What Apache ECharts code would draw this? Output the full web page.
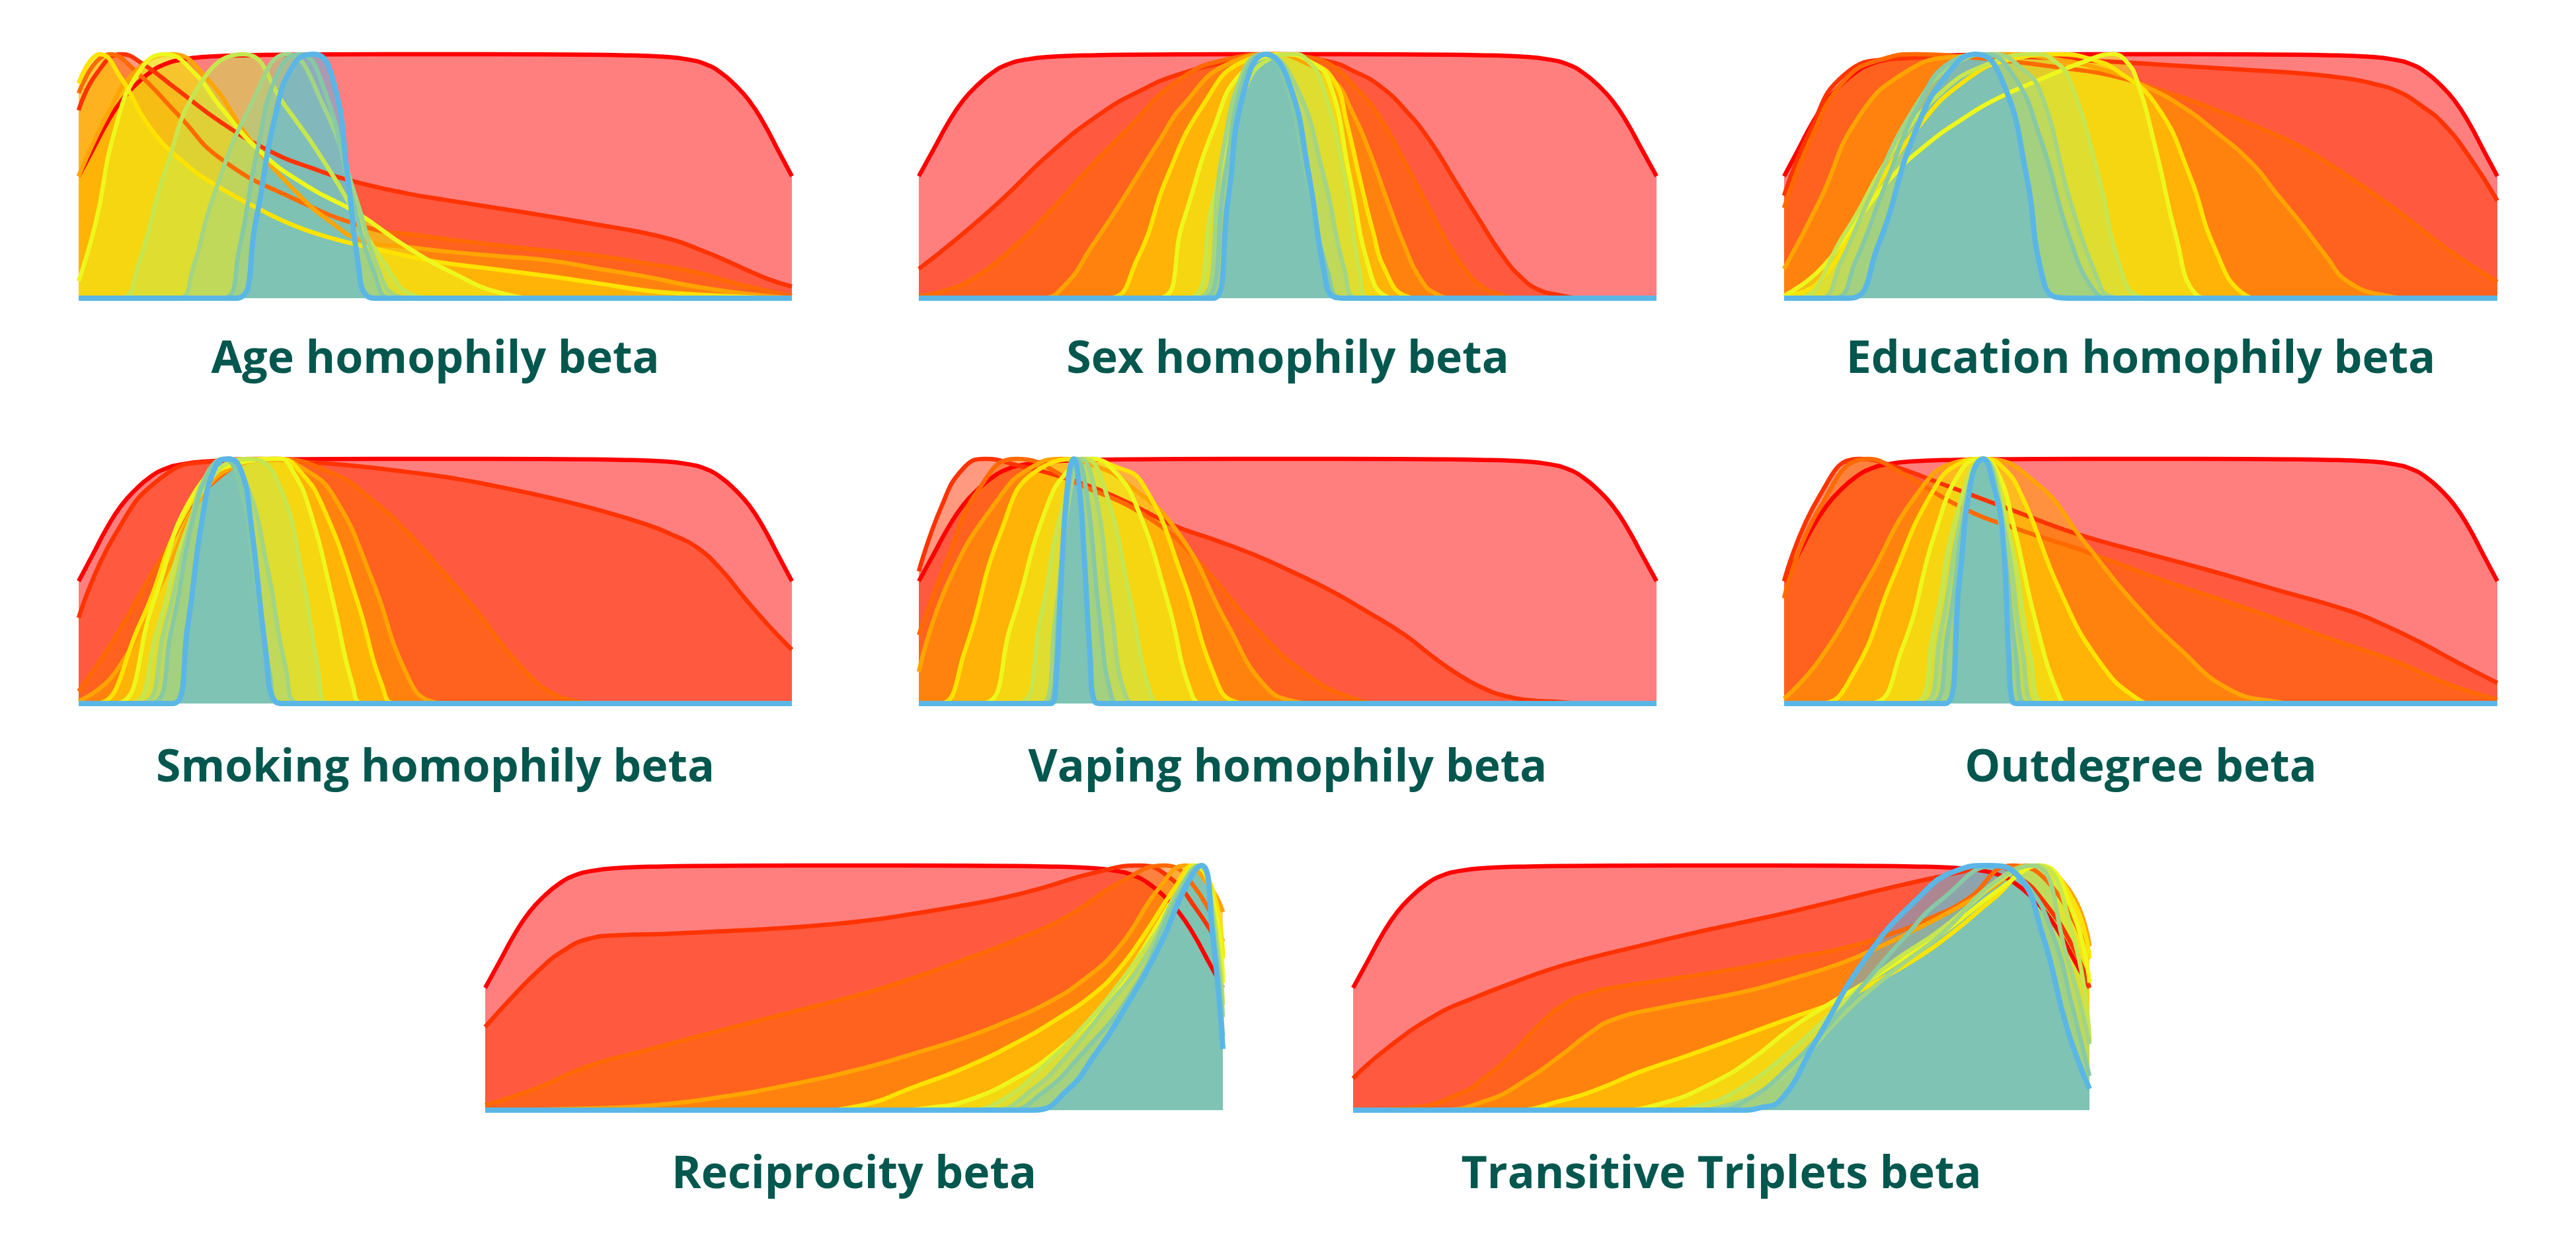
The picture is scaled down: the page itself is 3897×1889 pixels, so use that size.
<!DOCTYPE html>
<html>
<head>
<meta charset="utf-8">
<script src="https://cdn.jsdelivr.net/npm/echarts@6/dist/echarts.min.js"></script>
<style>
  html, body { margin: 0; padding: 0; background: #fff; }
  #chart { width: 3897px; height: 1889px; }
</style>
</head>
<body>
<div id="chart"></div>
<script>
'use strict'

// one colour per curve, from first (red) to last (blue)
const CURVE_COLORS = [
  '#ff0000',
  '#ff3300',
  '#ff6a00',
  '#ffa400',
  '#ffe300',
  '#eef71c',
  '#c6e650',
  '#a2d584',
  '#86c9a6',
  '#5ab6e6'
]

const PANEL_TITLES = [
  'Age homophily beta',
  'Sex homophily beta',
  'Education homophily beta',
  'Smoking homophily beta',
  'Vaping homophily beta',
  'Outdegree beta',
  'Reciprocity beta',
  'Transitive Triplets beta'
]

// x is position across the panel (0-100), y is the normalised density (0-1)
const priorCurve = [[0, 0.5], [2, 0.61], [4, 0.72], [6, 0.81], [8, 0.875], [10, 0.925], [12, 0.958], [14.5, 0.978], [18, 0.99], [24, 0.996], [35, 0.999], [50, 1], [65, 0.999], [76, 0.996], [82, 0.99], [85.5, 0.978], [88, 0.958], [90, 0.925], [92, 0.875], [94, 0.81], [96, 0.72], [98, 0.61], [100, 0.5]]

const ageCurves = [
  priorCurve,
  [[0, 0.77], [2.5, 0.92], [6, 1], [9, 0.96], [13.6, 0.86], [20, 0.72], [27, 0.6], [33, 0.53], [38.4, 0.48], [45.9, 0.43], [52, 0.4], [59.4, 0.366], [66, 0.335], [73, 0.3], [78, 0.275], [83.2, 0.24], [87, 0.2], [90, 0.164], [93.5, 0.118], [96.8, 0.077], [100, 0.048]],
  [[0, 0.84], [4.4, 1], [8, 0.93], [14, 0.75], [20, 0.57], [30, 0.41], [40.4, 0.29], [47, 0.26], [55, 0.23], [64, 0.2], [73, 0.173], [80, 0.14], [86.6, 0.106], [91, 0.07], [95, 0.04], [100, 0.01]],
  [[0, 0.5], [4, 0.75], [8, 0.93], [13, 1], [18, 0.9], [24, 0.65], [30, 0.45], [35, 0.32], [40.4, 0.23], [46, 0.21], [52, 0.19], [59, 0.172], [66.2, 0.154], [73, 0.12], [79.8, 0.087], [86, 0.05], [93.4, 0.019], [100, 0]],
  [[0, 0.88], [3, 1], [6, 0.9], [10, 0.7], [15, 0.55], [20, 0.45], [25, 0.37], [30, 0.3], [35, 0.25], [40.4, 0.21], [45, 0.18], [50, 0.15], [58, 0.12], [66, 0.09], [73, 0.06], [80, 0.03], [85, 0.018], [90, 0.01], [95, 0.003], [100, 0]],
  [[0, 0.07], [2.4, 0.31], [5.1, 0.69], [8.5, 0.93], [12.2, 1], [16, 0.93], [20, 0.78], [25.5, 0.6], [32, 0.46], [39, 0.35], [46, 0.21], [52.7, 0.1], [59.4, 0.02], [65, 0], [100, 0]],
  [[0, 0], [5.8, 0], [8.5, 0.15], [11.9, 0.5], [17.3, 0.89], [23.1, 1], [28.9, 0.79], [35.7, 0.5], [42.5, 0.16], [47.2, 0.01], [50, 0], [100, 0]],
  [[0, 0], [13.9, 0], [16, 0.12], [18.7, 0.4], [24.1, 0.79], [29.2, 1], [34.3, 0.79], [39, 0.4], [42, 0.12], [44.5, 0.01], [47, 0], [100, 0]],
  [[0, 0], [20.2, 0], [22.5, 0.2], [25, 0.6], [28, 0.93], [31, 1], [34.5, 0.85], [38, 0.45], [41.5, 0.1], [44, 0], [100, 0]],
  [[0, 0], [22.1, 0], [24.8, 0.31], [27.5, 0.74], [30.2, 0.96], [33, 1], [35.7, 0.89], [37.7, 0.5], [39.1, 0.16], [40.4, 0.01], [42, 0], [100, 0]]
]

const sexCurves = [
  priorCurve,
  [[0, 0.12], [5, 0.24], [11.1, 0.4], [18, 0.6], [24.8, 0.76], [30, 0.85], [35, 0.915], [41.9, 0.97], [48, 1], [55.6, 0.97], [59, 0.93], [62.5, 0.87], [66, 0.77], [69.3, 0.645], [72.7, 0.48], [76.2, 0.31], [79, 0.18], [81.6, 0.087], [84, 0.035], [86.4, 0.015], [90, 0], [100, 0]],
  [[0, 0.01], [3.5, 0.03], [7.7, 0.087], [12.5, 0.2], [17.9, 0.36], [23, 0.53], [28.2, 0.69], [35, 0.89], [41.9, 0.98], [48, 1], [52, 0.99], [55.6, 0.96], [59, 0.87], [62.5, 0.74], [66, 0.55], [69.3, 0.36], [71.8, 0.22], [74.1, 0.116], [76.2, 0.05], [78.2, 0.02], [82, 0], [100, 0]],
  [[0, 0], [16.6, 0], [20, 0.06], [23.4, 0.21], [26.5, 0.35], [29.6, 0.5], [32.7, 0.65], [35.8, 0.79], [41.9, 0.96], [48.5, 1], [52, 0.97], [56.3, 0.89], [58.8, 0.76], [61.1, 0.6], [63.5, 0.4], [65.9, 0.21], [68, 0.08], [70, 0.02], [73, 0], [100, 0]],
  [[0, 0], [25.5, 0], [29.6, 0.16], [33.7, 0.5], [38.5, 0.79], [44, 0.97], [49.5, 1], [53, 0.97], [56.3, 0.89], [58, 0.72], [59.7, 0.5], [61.5, 0.28], [63.2, 0.116], [65.9, 0.01], [68, 0], [100, 0]],
  [[0, 0], [32.3, 0], [35.8, 0.31], [39.9, 0.69], [44, 0.93], [50.1, 1], [53, 0.97], [55.6, 0.89], [58.4, 0.5], [61.1, 0.116], [63.2, 0.01], [65, 0], [100, 0]],
  [[0, 0], [36.4, 0], [39.9, 0.4], [44, 0.84], [47.5, 0.98], [50.8, 1], [52.5, 0.98], [54.5, 0.89], [57.7, 0.5], [59.7, 0.116], [61.1, 0], [100, 0]],
  [[0, 0], [37.8, 0], [41.2, 0.6], [44, 0.93], [46.7, 1], [50.8, 0.89], [54.9, 0.5], [57.7, 0.116], [59.7, 0], [100, 0]],
  [[0, 0], [38.5, 0], [41.5, 0.5], [44, 0.9], [46.7, 1], [49.5, 0.9], [52.5, 0.5], [55.5, 0.1], [57.5, 0], [100, 0]],
  [[0, 0], [39.9, 0], [41.9, 0.4], [44, 0.84], [47.1, 1], [50.1, 0.89], [52.9, 0.5], [54.9, 0.116], [56.3, 0.005], [58, 0], [100, 0]]
]

const educationCurves = [
  priorCurve,
  [[0, 0.42], [3.7, 0.69], [8.4, 0.915], [15.2, 0.98], [25, 0.99], [30, 0.99], [45.5, 0.97], [55, 0.953], [65.7, 0.934], [73, 0.92], [79.1, 0.9], [82.5, 0.88], [85.9, 0.85], [89.3, 0.79], [92.6, 0.71], [96.3, 0.57], [100, 0.4]],
  [[0, 0.37], [3.7, 0.65], [8.4, 0.89], [13.8, 0.98], [18.5, 1], [25, 0.99], [32, 0.97], [38.7, 0.945], [45.5, 0.915], [52, 0.86], [58.9, 0.79], [65.7, 0.71], [72.4, 0.62], [79, 0.5], [85.9, 0.36], [93, 0.2], [100, 0.067]],
  [[0, 0.12], [5, 0.4], [10.4, 0.74], [17.2, 0.93], [24, 0.99], [30.6, 1], [38, 0.98], [45.5, 0.93], [50.5, 0.87], [55.6, 0.79], [60.6, 0.68], [65.7, 0.55], [69, 0.43], [72.4, 0.31], [75.8, 0.18], [79.1, 0.067], [84.5, 0.01], [88, 0], [100, 0]],
  [[0, 0.01], [5, 0.07], [11.8, 0.4], [18.5, 0.69], [25.3, 0.89], [32, 0.98], [38.7, 1], [43, 0.98], [46.8, 0.93], [52.2, 0.79], [56.9, 0.5], [60.3, 0.21], [64.3, 0.02], [67, 0], [100, 0]],
  [[0, 0.01], [5, 0.116], [10, 0.31], [15.2, 0.5], [20, 0.63], [25.3, 0.74], [30, 0.82], [35.4, 0.89], [42.1, 0.97], [46.1, 1], [48, 0.97], [49.5, 0.89], [52.2, 0.6], [54.9, 0.26], [57.6, 0.02], [60, 0], [100, 0]],
  [[0, 0], [1.7, 0], [8.4, 0.26], [15.2, 0.6], [21.9, 0.84], [28.6, 0.96], [35.4, 1], [38, 0.97], [40.1, 0.89], [44.1, 0.5], [46.8, 0.16], [49.5, 0.01], [52, 0], [100, 0]],
  [[0, 0], [5, 0], [8, 0.15], [11.8, 0.4], [18.5, 0.79], [24, 0.96], [29.3, 1], [33, 0.95], [36, 0.84], [40.1, 0.4], [44.1, 0.067], [45.5, 0.01], [48, 0], [100, 0]],
  [[0, 0], [7, 0], [10, 0.15], [14, 0.45], [19, 0.8], [23.5, 0.97], [27.9, 1], [32, 0.92], [36, 0.65], [40, 0.25], [43.5, 0.03], [46, 0], [100, 0]],
  [[0, 0], [9.1, 0], [13.1, 0.21], [18.5, 0.69], [23.2, 0.93], [26.9, 1], [30.6, 0.89], [34, 0.5], [36, 0.116], [38, 0.005], [40, 0], [100, 0]]
]

const smokingCurves = [
  priorCurve,
  [[0, 0.35], [5.1, 0.69], [11.9, 0.93], [18.7, 0.99], [25.5, 1], [32, 0.988], [39.1, 0.97], [45.9, 0.947], [52.7, 0.92], [59.4, 0.883], [66.2, 0.84], [73, 0.79], [79.8, 0.73], [83.2, 0.69], [86.6, 0.64], [90, 0.55], [93.4, 0.43], [96.7, 0.32], [100, 0.22]],
  [[0, 0.05], [5.1, 0.27], [11.9, 0.61], [18.7, 0.9], [27.5, 1], [35.7, 0.94], [40.8, 0.84], [45.9, 0.705], [51, 0.54], [56, 0.37], [59.4, 0.24], [62.8, 0.126], [66.2, 0.045], [69.6, 0.01], [73, 0], [100, 0]],
  [[0, 0.01], [5.1, 0.126], [11.9, 0.51], [17.3, 0.85], [22, 0.97], [27.5, 1], [31.5, 0.96], [35.7, 0.85], [41.1, 0.51], [45.9, 0.126], [49.3, 0.01], [52, 0], [100, 0]],
  [[0, 0], [2.4, 0], [8.5, 0.32], [15.3, 0.8], [21, 0.97], [28.2, 1], [31, 0.95], [34.3, 0.8], [39.1, 0.415], [42.5, 0.077], [44.5, 0], [100, 0]],
  [[0, 0], [5.1, 0], [10.5, 0.415], [16, 0.85], [22, 0.98], [28.2, 1], [30, 0.95], [32.3, 0.8], [35.7, 0.415], [38.4, 0.077], [40, 0], [100, 0]],
  [[0, 0], [7.1, 0], [11, 0.3], [15, 0.7], [19.5, 0.95], [24.1, 1], [28, 0.9], [31.5, 0.5], [33.5, 0.15], [35, 0], [100, 0]],
  [[0, 0], [8.5, 0], [12, 0.3], [15.5, 0.72], [18, 0.94], [20.7, 1], [23.5, 0.9], [26.5, 0.55], [29, 0.15], [31, 0], [100, 0]],
  [[0, 0], [9.9, 0], [13, 0.3], [16, 0.75], [18.5, 0.96], [20.3, 1], [22.5, 0.9], [24.8, 0.5], [26.8, 0.12], [28.2, 0], [100, 0]],
  [[0, 0], [13.2, 0], [15.3, 0.32], [17.3, 0.75], [19.2, 0.97], [21, 1], [22.8, 0.95], [24.1, 0.75], [26.2, 0.22], [27.5, 0.01], [29, 0], [100, 0]]
]

const vapingCurves = [
  priorCurve,
  [[0, 0.54], [3, 0.8], [6, 0.96], [9, 1], [13.2, 0.975], [20, 0.92], [27, 0.84], [34.4, 0.73], [40, 0.67], [45.3, 0.61], [50.5, 0.54], [55.6, 0.465], [60.8, 0.375], [65.9, 0.28], [69.3, 0.2], [72.7, 0.127], [76, 0.07], [79.6, 0.03], [83, 0.013], [86.4, 0.007], [90, 0], [100, 0]],
  [[0, 0.28], [4, 0.6], [8, 0.87], [13.2, 1], [21.4, 0.9], [31.6, 0.75], [38.5, 0.56], [45.3, 0.32], [52.2, 0.127], [59, 0.02], [63, 0], [100, 0]],
  [[0, 0.13], [4.2, 0.51], [11.1, 0.85], [15, 0.96], [19.3, 1], [24, 0.97], [28.2, 0.9], [35.1, 0.7], [41.9, 0.32], [46.7, 0.08], [50.8, 0.01], [54, 0], [100, 0]],
  [[0, 0], [2.9, 0], [6.3, 0.22], [11.1, 0.7], [15.9, 0.95], [22.7, 1], [26.5, 0.97], [30.3, 0.9], [35.8, 0.51], [39.9, 0.127], [42.6, 0.01], [45, 0], [100, 0]],
  [[0, 0], [8.4, 0], [12.5, 0.32], [17.3, 0.8], [20.5, 0.96], [23.4, 1], [26.5, 0.95], [29.6, 0.8], [33.7, 0.42], [37.1, 0.03], [39, 0], [100, 0]],
  [[0, 0], [13.2, 0], [16.5, 0.35], [19.5, 0.8], [22.7, 1], [25.5, 0.85], [28.5, 0.45], [31.6, 0.02], [33, 0], [100, 0]],
  [[0, 0], [16.6, 0], [18.5, 0.35], [20.3, 0.82], [22.1, 1], [24, 0.85], [26, 0.4], [28.2, 0.02], [30, 0], [100, 0]],
  [[0, 0], [17.3, 0], [19, 0.4], [20.2, 0.85], [21.4, 1], [22.8, 0.85], [24.5, 0.35], [26.2, 0.02], [27.5, 0], [100, 0]],
  [[0, 0], [17.9, 0], [18.6, 0.1], [19.3, 0.51], [20.2, 0.9], [21, 1], [21.7, 0.9], [22.4, 0.61], [23.2, 0.2], [23.8, 0.01], [25, 0], [100, 0]]
]

const outdegreeCurves = [
  priorCurve,
  [[0, 0.5], [5, 0.85], [10.4, 1], [13.8, 0.985], [21.9, 0.9], [32, 0.79], [41.4, 0.69], [50, 0.62], [58.9, 0.55], [69, 0.465], [79.1, 0.38], [84.2, 0.32], [89.2, 0.25], [94.6, 0.165], [100, 0.084]],
  [[0, 0.43], [5, 0.8], [11.8, 1], [16, 0.95], [25, 0.8], [33, 0.71], [41.4, 0.63], [53.5, 0.5], [65.7, 0.38], [76, 0.27], [85.9, 0.17], [93, 0.08], [100, 0.016]],
  [[0, 0.02], [5, 0.18], [11.8, 0.51], [18.5, 0.85], [23.9, 0.985], [27.9, 1], [35.4, 0.9], [42.1, 0.66], [48.8, 0.42], [55.6, 0.22], [62.3, 0.06], [69, 0.007], [72, 0], [100, 0]],
  [[0, 0], [5, 0], [9.8, 0.127], [15.2, 0.51], [20.5, 0.85], [24.5, 0.98], [27.9, 1], [30.5, 0.97], [33.3, 0.85], [38.7, 0.46], [44.1, 0.175], [49.5, 0.02], [52, 0], [100, 0]],
  [[0, 0], [11.8, 0], [16.5, 0.22], [21.2, 0.7], [25, 0.96], [27.9, 1], [30, 0.94], [32, 0.75], [35.4, 0.32], [38.7, 0.02], [40, 0], [100, 0]],
  [[0, 0], [17.8, 0], [21, 0.3], [24, 0.75], [27.9, 1], [31.5, 0.7], [34.5, 0.2], [36.7, 0], [100, 0]],
  [[0, 0], [19.2, 0], [22, 0.3], [25, 0.78], [27.9, 1], [31, 0.7], [33.5, 0.2], [35.4, 0], [100, 0]],
  [[0, 0], [20.5, 0], [23, 0.3], [25.5, 0.8], [27.9, 1], [30.5, 0.7], [32.5, 0.2], [34, 0], [100, 0]],
  [[0, 0], [22.6, 0], [24.6, 0.51], [26.3, 0.92], [27.9, 1], [29.3, 0.9], [30.6, 0.7], [31.5, 0.2], [32, 0.01], [33, 0], [100, 0]]
]

const reciprocityCurves = [
  priorCurve,
  [[0, 0.34], [3.6, 0.46], [7.2, 0.57], [10.5, 0.65], [14, 0.7], [18, 0.715], [24.3, 0.72], [31, 0.73], [38, 0.74], [45, 0.755], [51.7, 0.775], [58.5, 0.805], [65.4, 0.84], [70.5, 0.87], [75.7, 0.91], [82.5, 0.97], [88.7, 1], [92.8, 0.95], [96.2, 0.83], [100, 0.65]],
  [[0, 0.02], [7, 0.09], [14, 0.18], [22.5, 0.25], [31.2, 0.32], [41.5, 0.4], [51.7, 0.48], [58.5, 0.545], [65.4, 0.62], [72.3, 0.7], [79.1, 0.795], [86, 0.93], [92.1, 1], [96.2, 0.91], [100, 0.69]],
  [[0, 0], [17.5, 0.01], [24.5, 0.025], [31.2, 0.05], [41.5, 0.105], [51.7, 0.175], [58.5, 0.235], [65.4, 0.3], [70.5, 0.36], [75.7, 0.43], [81, 0.53], [86, 0.67], [91.4, 0.91], [94.9, 1], [98.3, 0.91], [100, 0.81]],
  [[0, 0], [44.9, 0], [50.3, 0.015], [58.6, 0.1], [65.5, 0.18], [72.3, 0.28], [77.4, 0.37], [82.5, 0.475], [86, 0.58], [89.4, 0.72], [93.5, 0.91], [95.9, 1], [99, 0.86], [100, 0.62]],
  [[0, 0], [55.1, 0], [60.2, 0.01], [65.4, 0.04], [72.3, 0.136], [77.4, 0.24], [82.5, 0.38], [86, 0.51], [89.4, 0.67], [94.2, 0.91], [96.2, 1], [99, 0.81], [100, 0.52]],
  [[0, 0], [65.4, 0], [70.5, 0.05], [75.7, 0.18], [81, 0.34], [86, 0.52], [92.8, 0.81], [96.6, 1], [98.5, 0.85], [100, 0.43]],
  [[0, 0], [68.8, 0], [74, 0.08], [79.1, 0.23], [84.2, 0.42], [89.4, 0.62], [94, 0.9], [96.9, 1], [98.6, 0.8], [100, 0.38]],
  [[0, 0], [70.9, 0], [75.5, 0.07], [80, 0.2], [88, 0.5], [93.5, 0.85], [96.9, 1], [98.6, 0.75], [100, 0.3]],
  [[0, 0], [74.3, 0], [79.1, 0.087], [82.5, 0.22], [86, 0.38], [91.4, 0.67], [94.9, 0.91], [97.1, 1], [98.6, 0.72], [100, 0.25]]
]

const transitiveCurves = [
  priorCurve,
  [[0, 0.13], [4.5, 0.25], [11.3, 0.39], [16.5, 0.46], [21.6, 0.52], [26.7, 0.575], [31.9, 0.62], [38.7, 0.67], [45.6, 0.72], [52.5, 0.765], [59.3, 0.81], [66.2, 0.86], [73, 0.91], [82, 0.97], [86.8, 1], [90.5, 0.95], [93.6, 0.86], [97.7, 0.67], [100, 0.5]],
  [[0, 0], [7.9, 0.01], [14.7, 0.07], [18.2, 0.14], [21.6, 0.23], [25, 0.34], [28.5, 0.43], [31.9, 0.475], [35.3, 0.5], [44, 0.54], [52.5, 0.58], [59.3, 0.62], [66.2, 0.66], [73, 0.72], [78, 0.78], [83.3, 0.86], [89.5, 1], [95, 0.91], [100, 0.62]],
  [[0, 0], [11.3, 0], [18.2, 0.04], [23.3, 0.12], [28.5, 0.23], [31.9, 0.31], [35.3, 0.37], [42, 0.42], [52.5, 0.48], [59.3, 0.535], [66.2, 0.6], [71.3, 0.665], [76.5, 0.74], [81.6, 0.82], [86.8, 0.91], [91.6, 1], [97, 0.91], [100, 0.67]],
  [[0, 0], [21.6, 0], [28.5, 0.04], [33.6, 0.09], [38.8, 0.155], [45.6, 0.225], [52.5, 0.3], [59.3, 0.375], [66.2, 0.45], [71.3, 0.53], [76.5, 0.62], [81.6, 0.73], [86.8, 0.86], [92.9, 1], [97.7, 0.86], [100, 0.62]],
  [[0, 0], [35.3, 0], [42.2, 0.03], [49.1, 0.116], [54.2, 0.21], [59.3, 0.33], [64.4, 0.43], [69.5, 0.52], [74.7, 0.62], [79.9, 0.72], [88.1, 0.91], [93.3, 1], [97.7, 0.81], [100, 0.52]],
  [[0, 0], [42.2, 0], [47.3, 0.02], [52.5, 0.087], [59.3, 0.24], [66.2, 0.43], [73, 0.6], [79.9, 0.74], [88.8, 0.96], [92.9, 1], [97.7, 0.72], [100, 0.28]],
  [[0, 0], [45.6, 0], [50.8, 0.02], [56, 0.087], [61, 0.21], [66.2, 0.38], [73, 0.56], [79.9, 0.72], [87, 0.93], [92.2, 1], [97, 0.62], [100, 0.27]],
  [[0, 0], [49, 0], [54, 0.05], [59.3, 0.18], [64.4, 0.34], [69.5, 0.52], [74.7, 0.7], [79.9, 0.86], [87.4, 1], [91.5, 0.92], [95, 0.72], [97.7, 0.42], [100, 0.14]],
  [[0, 0], [52.5, 0], [55.3, 0.01], [58, 0.04], [62.8, 0.28], [69.6, 0.62], [76.5, 0.86], [82, 0.98], [86.1, 1], [90.2, 0.96], [93.6, 0.72], [97, 0.33], [100, 0.087]]
]

const panelCurves = [ageCurves, sexCurves, educationCurves, smokingCurves, vapingCurves, outdegreeCurves, reciprocityCurves, transitiveCurves]

// pixel boxes of the eight small plots, and the vertical centre of each title
const panelBoxes = [
  { left: 119, top: 82, width: 1079, height: 369, titleY: 545 },
  { left: 1390, top: 82, width: 1116, height: 369, titleY: 545 },
  { left: 2699, top: 82, width: 1079, height: 369, titleY: 545 },
  { left: 119, top: 694, width: 1079, height: 370, titleY: 1163 },
  { left: 1390, top: 694, width: 1116, height: 370, titleY: 1163 },
  { left: 2699, top: 694, width: 1079, height: 370, titleY: 1163 },
  { left: 734, top: 1309, width: 1116, height: 370, titleY: 1778 },
  { left: 2047, top: 1309, width: 1114, height: 370, titleY: 1778 }
]

const dom = document.getElementById('chart')
const chart = echarts.init(dom, null, { renderer: 'canvas' })

const grid = panelBoxes.map(box => ({
  left: box.left,
  top: box.top,
  width: box.width,
  height: box.height,
  containLabel: false
}))

const xAxis = panelBoxes.map((box, idx) => ({
  type: 'value', gridIndex: idx, min: 0, max: 100, show: false
}))

const yAxis = panelBoxes.map((box, idx) => ({
  type: 'value', gridIndex: idx, min: 0, max: 1, show: false
}))

const title = panelBoxes.map((box, idx) => ({
  text: PANEL_TITLES[idx],
  left: box.left + box.width / 2,
  top: box.titleY,
  textAlign: 'center',
  textVerticalAlign: 'middle',
  padding: 0,
  textStyle: {
    fontFamily: 'Open Sans',
    fontWeight: 'bold',
    fontSize: 68,
    color: '#03574e'
  }
}))

const series = []
panelCurves.forEach((curves, panelIdx) => {
  curves.forEach((points, curveIdx) => {
    const color = CURVE_COLORS[curveIdx]
    series.push({
      type: 'line',
      xAxisIndex: panelIdx,
      yAxisIndex: panelIdx,
      data: points,
      smooth: 0.5,
      symbol: 'none',
      clip: false,
      silent: true,
      lineStyle: { color, width: curveIdx === CURVE_COLORS.length - 1 ? 8 : 6.5 },
      areaStyle: { color, opacity: 0.5 }
    })
  })
})

const option = {
  backgroundColor: '#ffffff',
  animation: false,
  title,
  grid,
  xAxis,
  yAxis,
  series
}
chart.setOption(option)
</script>
</body>
</html>
